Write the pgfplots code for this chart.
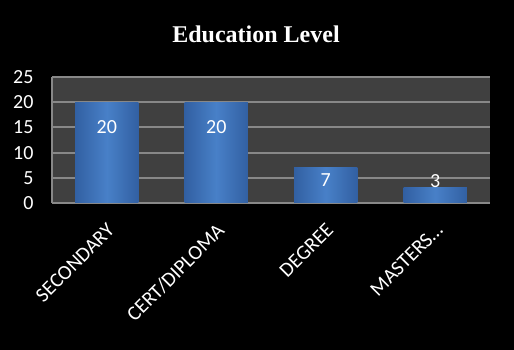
\documentclass[border=0pt]{standalone}
\usepackage{pgfplots}
\pgfplotsset{compat=1.18}
\usepackage{pgfplotstable}
\usepackage{fontspec}
\setmainfont{Carlito}
\newfontfamily\titlefont{Liberation Serif}
\definecolor{plotbg}{RGB}{64,64,64}
\definecolor{gridgray}{RGB}{136,136,136}
\definecolor{barmid}{RGB}{72,128,200}
\definecolor{bardark}{RGB}{50,96,162}
\pgfplotstableread{
x y off
0 20 -25
1 20 -25
2 7 -12
3 3 7
}\datatable
\pgfplotsset{barsty/.style={ybar, bar width=63pt, bar shift=0pt, draw=none,
  left color=bardark, right color=bardark, middle color=barmid,
  nodes near coords,
  point meta=explicit,
  visualization depends on={\thisrow{off} \as \off},
  every node near coord/.append style={anchor=center, yshift=\off pt, text=white, font=\fontsize{20}{22}\selectfont}}}
\begin{document}
\begin{tikzpicture}[x=1pt,y=1pt]
\fill[black] (0,0) rectangle (514,350);
\useasboundingbox (0,0) rectangle (514,350);
\node[anchor=base, text=white, font=\titlefont\bfseries\fontsize{24}{28}\selectfont] at (256,307) {Education Level};
\begin{axis}[
  at={(52pt,147pt)}, anchor=south west,
  scale only axis, width=438pt, height=126pt,
  xmin=-0.5, xmax=3.5, ymin=0, ymax=25,
  ytick={0,5,10,15,20,25},
  xtick={0,1,2,3},
  xticklabels={SECONDARY,CERT/DIPLOMA,DEGREE,{MASTERS\ldots}},
  axis background/.style={fill=plotbg},
  axis lines*=left,
  axis line style={draw=gridgray, line width=2pt},
  ymajorgrids,
  major grid style={draw=gridgray, line width=2pt},
  major tick length=0pt,
  /pgf/number format/assume math mode=true,
  ticklabel style={text=white, font=\fontsize{20}{22}\selectfont},
  yticklabel style={xshift=-15pt},
  xticklabel style={rotate=45, anchor=north east, inner sep=0pt, xshift=-1pt, font=\fontsize{20.5}{22}\selectfont},
  xticklabel shift=18pt,
  clip=false,
]
\addplot[barsty, restrict x to domain=0:0] table[x=x, y=y, meta=y] {\datatable};
\addplot[barsty, restrict x to domain=1:1] table[x=x, y=y, meta=y] {\datatable};
\addplot[barsty, restrict x to domain=2:2] table[x=x, y=y, meta=y] {\datatable};
\addplot[barsty, restrict x to domain=3:3] table[x=x, y=y, meta=y] {\datatable};
\end{axis}
\end{tikzpicture}
\end{document}
